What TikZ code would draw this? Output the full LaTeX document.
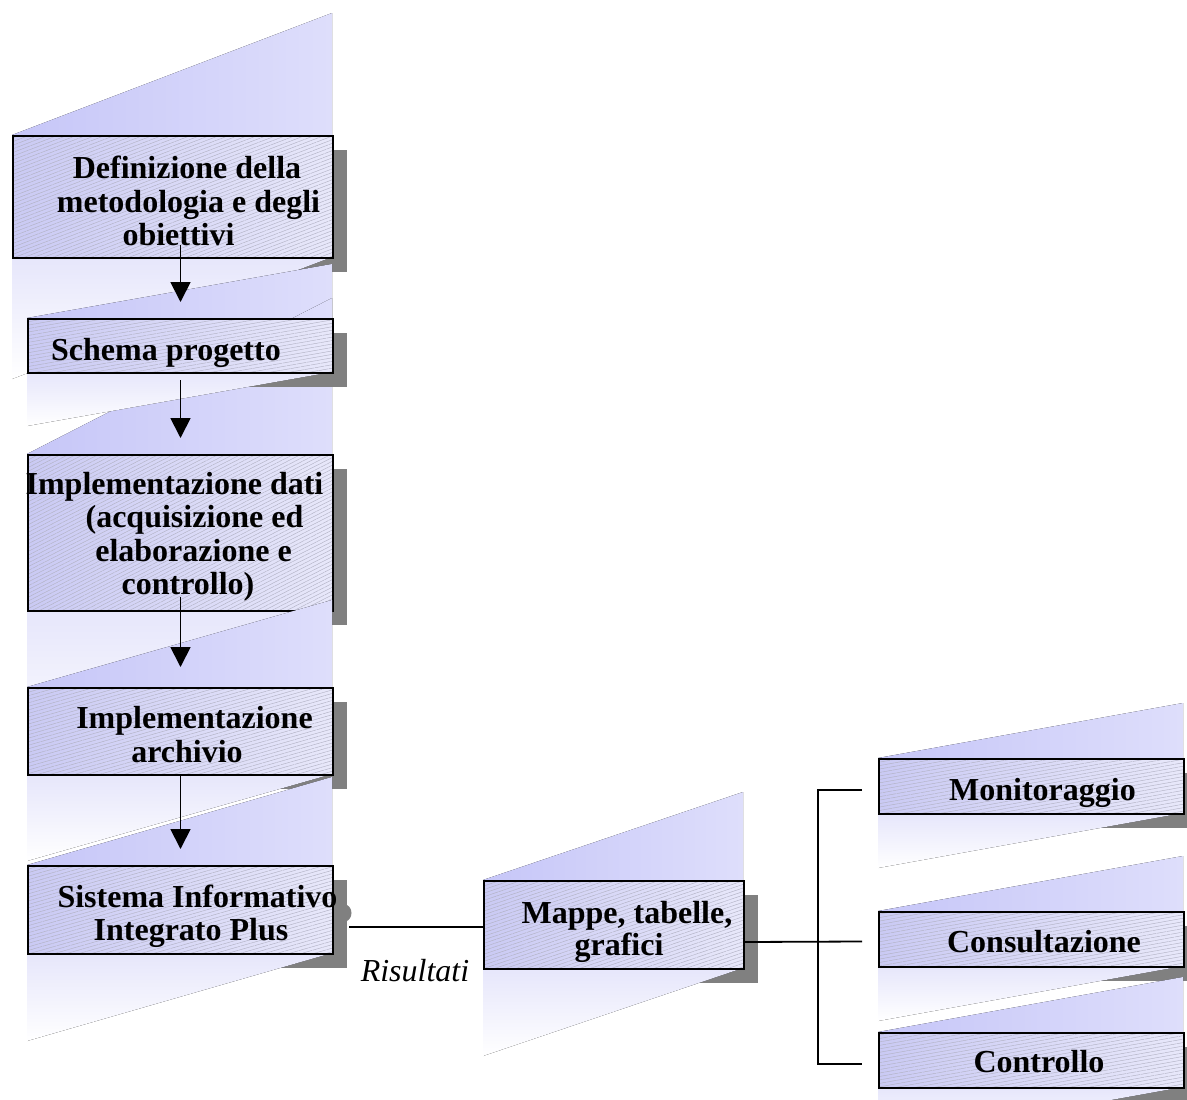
\documentclass[tikz,border=0pt]{standalone}
\usepackage{fontspec}
\setmainfont{Liberation Serif}
\usetikzlibrary{arrows.meta,patterns.meta,calc}
\definecolor{lavA}{RGB}{198,198,248}
\definecolor{lavB}{RGB}{222,222,251}
\definecolor{boxL}{RGB}{202,202,244}
\definecolor{boxR}{RGB}{232,232,250}
\definecolor{hatchc}{RGB}{178,178,196}
\definecolor{reflc}{RGB}{230,230,251}
\definecolor{shadc}{RGB}{128,128,128}
\newcommand{\DecoWedge}[4]{\fill[left color=lavA,right color=lavB] (#1,#2) -- (#3,{#2-(#4-#2)}) -- (#3,#2) -- cycle;}
\newcommand{\DecoShadow}[4]{\fill[shadc] ({#1+15},{#2+15}) rectangle ({#3+15},{#4+15});}
\newcommand{\DecoRefl}[4]{\fill[top color=reflc,middle color=white!97!reflc,bottom color=white] (#1,#4) -- (#3,#4) -- (#1,{#4+(#4-#2)}) -- cycle;}
\tikzset{
  boxnode/.style={draw=black, line width=2pt, inner sep=0pt, anchor=north west,
    preaction={left color=boxL, right color=boxR},
    preaction={pattern={Lines[angle=#1,distance=3.4pt,line width=0.45pt]}, pattern color=hatchc}},
  lbl/.style={font=\fontsize{32}{33.5}\selectfont\bfseries, anchor=base, inner sep=0pt},
  ilbl/.style={font=\fontsize{32}{33.5}\selectfont\itshape, anchor=base, inner sep=0pt},
  arr/.style={line width=1.8pt, -{Triangle[width=20pt,length=20pt]}},
  conn/.style={line width=1.8pt}
}
\begin{document}
\begin{tikzpicture}[x=1pt,y=-1pt]
\useasboundingbox (0,0) rectangle (1187,1100);
\clip (0,0) rectangle (1187,1100);

% box 1
\DecoWedge{12}{135}{332}{257}
\DecoShadow{12}{135}{332}{257}
\DecoRefl{12}{135}{332}{257}
\node[boxnode=20.9, minimum width=320pt, minimum height=122pt] (b1) at (12,135) {};

% box 2 (and wedge of box 3 underneath its reflection)
\DecoWedge{27}{318}{332}{372}
\DecoWedge{27}{454}{332}{610}
\DecoShadow{27}{318}{332}{372}
\DecoRefl{27}{318}{332}{372}
\node[boxnode=10, minimum width=305pt, minimum height=54pt] (b2) at (27,318) {};

% box 3
\DecoShadow{27}{454}{332}{610}
\DecoRefl{27}{454}{332}{610}
\node[boxnode=27, minimum width=305pt, minimum height=156pt] (b3) at (27,454) {};

% box 4
\DecoWedge{27}{687}{332}{774}
\DecoShadow{27}{687}{332}{774}
\DecoRefl{27}{687}{332}{774}
\node[boxnode=16, minimum width=305pt, minimum height=87pt] (b4) at (27,687) {};

% box 5
\DecoWedge{27}{865}{332}{953}
\DecoShadow{27}{865}{332}{953}
\fill[shadc] (343.5,913) ellipse [x radius=8pt, y radius=9pt];
\DecoRefl{27}{865}{332}{953}
\node[boxnode=16, minimum width=305pt, minimum height=88pt] (b5) at (27,865) {};

% box 6
\DecoWedge{483}{880}{743}{968}
\DecoShadow{483}{880}{743}{968}
\DecoRefl{483}{880}{743}{968}
\node[boxnode=18.7, minimum width=260pt, minimum height=88pt] (b6) at (483,880) {};

% box 7
\DecoWedge{878}{758}{1183}{813}
\DecoShadow{878}{758}{1183}{813}
\DecoRefl{878}{758}{1183}{813}
\node[boxnode=10.2, minimum width=305pt, minimum height=55pt] (b7) at (878,758) {};

% box 8
\DecoWedge{878}{911}{1183}{966}
\DecoShadow{878}{911}{1183}{966}
\DecoRefl{878}{911}{1183}{966}
\node[boxnode=10.2, minimum width=305pt, minimum height=55pt] (b8) at (878,911) {};

% box 9
\DecoWedge{878}{1032}{1183}{1087}
\DecoShadow{878}{1032}{1183}{1087}
\DecoRefl{878}{1032}{1183}{1087}
\node[boxnode=10.2, minimum width=305pt, minimum height=55pt] (b9) at (878,1032) {};

% texts
\node[lbl] (t1a) at (187,178) {Definizione della};
\node[lbl] (t1b) at (188.5,212) {metodologia e degli};
\node[lbl] (t1c) at (178.5,245) {obiettivi};
\node[lbl] (t2a) at (166,360) {Schema progetto};
\node[lbl] (t3a) at (174.5,494) {Implementazione dati};
\node[lbl] (t3b) at (194.5,527) {(acquisizione ed};
\node[lbl] (t3c) at (193.5,561) {elaborazione e};
\node[lbl] (t3d) at (188,594) {controllo)};
\node[lbl] (t4a) at (194.5,728) {Implementazione};
\node[lbl] (t4b) at (187,762) {archivio};
\node[lbl] (t5a) at (197.5,907) {Sistema Informativo};
\node[lbl] (t5b) at (191,940) {Integrato Plus};
\node[lbl] (t6a) at (627,923) {Mappe, tabelle,};
\node[lbl] (t6b) at (619,955) {grafici};
\node[lbl] (t7a) at (1042.5,800) {Monitoraggio};
\node[lbl] (t8a) at (1044,952) {Consultazione};
\node[lbl] (t9a) at (1039,1072) {Controllo};
\node[ilbl] (tr) at (415,981) {Risultati};

% arrows
\draw[arr] ([xshift=7.5pt,yshift=14pt]b1.south) -- ([yshift=16pt]b2.north);
\draw[arr] ([yshift=-6pt]b2.south) -- ([yshift=16pt]b3.north);
\draw[arr] ([yshift=15pt]b3.south) -- ([yshift=20pt]b4.north);
\draw[arr] (b4.south) -- ([yshift=16pt]b5.north);

% connectors
\coordinate (s5) at ([xshift=15pt,yshift=-17pt]b5.east);
\draw[conn] (s5) -- (b6.west |- s5);
\coordinate (s6) at ([yshift=-17pt]b6.east);
\coordinate (c7) at ([xshift=-16pt,yshift=-3.5pt]b7.west);
\coordinate (c8) at ([xshift=-16pt,yshift=-2pt]b8.west);
\coordinate (c9) at ([xshift=-16pt,yshift=-3.5pt]b9.west);
\coordinate (bx) at (818,941);
\draw[conn] (s6) -- (c8);
\draw[conn] (c7) -| (bx |- c9) -- (c9);
\end{tikzpicture}
\end{document}
